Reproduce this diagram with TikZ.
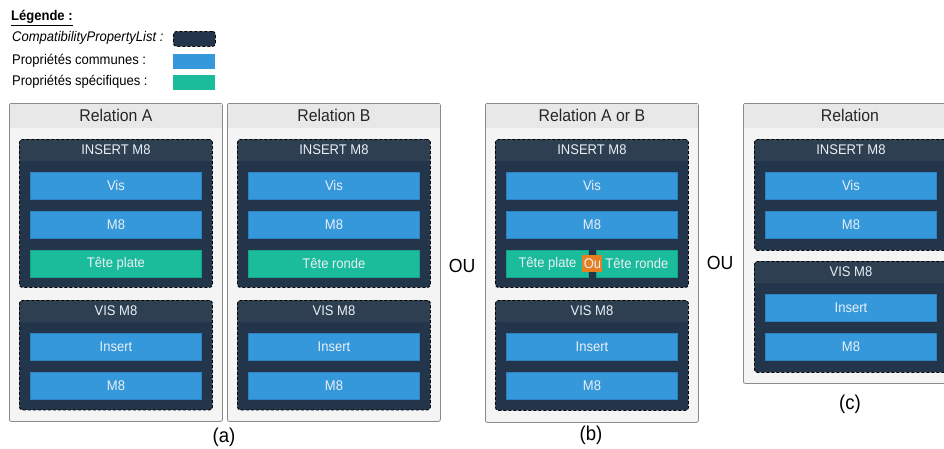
\documentclass[tikz,border=0pt]{standalone}
\usepackage{fontspec}
\setmainfont{Liberation Sans}[FakeStretch=0.93]
\usepackage{xcolor}
\usetikzlibrary{positioning,calc}

\definecolor{navy}{HTML}{22354B}
\definecolor{navyhead}{HTML}{2E3F52}
\definecolor{propblue}{HTML}{3498DB}
\definecolor{propblueline}{HTML}{2C82C0}
\definecolor{propgreen}{HTML}{1ABC9C}
\definecolor{propgreenline}{HTML}{17A589}
\definecolor{ouorange}{HTML}{E67E22}
\definecolor{panelbg}{HTML}{F4F4F4}
\definecolor{titlebg}{HTML}{E8E8E8}
\definecolor{panelline}{HTML}{8A8A8A}
\definecolor{lighttext}{HTML}{EAF0F5}

\begin{document}
\begin{tikzpicture}[x=1pt,y=-1pt,
  panel/.style={draw=panelline,fill=panelbg,rounded corners=2pt,line width=0.8pt,anchor=north west,inner sep=0pt,minimum width=213pt},
  ptitle/.style={fill=titlebg,inner sep=0pt,minimum width=211.8pt,minimum height=24.2pt,text=black!85,font=\fontsize{17}{19}\selectfont},
  group/.style={draw=black,dash pattern=on 3pt off 2pt,line width=0.9pt,fill=navy,rounded corners=3pt,anchor=north west,inner sep=0pt,minimum width=193pt,
    path picture={\fill[navyhead] (path picture bounding box.north west) rectangle ([yshift=-22pt]path picture bounding box.north east);}},
  ghead/.style={inner sep=0pt,text=lighttext,font=\fontsize{14}{16}\selectfont},
  item/.style={fill=propblue,draw=propblueline,line width=0.6pt,inner sep=0pt,minimum width=171pt,minimum height=27pt,text=lighttext,font=\fontsize{14}{16}\selectfont},
  spec/.style={item,fill=propgreen,draw=propgreenline},
  legtext/.style={anchor=west,inner sep=0pt,font=\fontsize{14}{16}\selectfont},
  swatch/.style={anchor=north west,inner sep=0pt,minimum width=42pt,minimum height=15pt},
  sublabel/.style={inner sep=0pt,font=\fontsize{20}{22}\selectfont},
  oulabel/.style={inner sep=0pt,font=\fontsize{19}{21}\selectfont},
  node distance=11.5pt]
\clip (0,0) rectangle (944,448);

% legend
\node[legtext,font=\fontsize{14}{16}\selectfont\bfseries] (legtitle) at (11,18) {\underline{Légende :}};
\node[legtext,font=\fontsize{14}{16}\selectfont\itshape] (legcpl) at (12,38) {CompatibilityPropertyList :};
\node[legtext] (legcom) at (12,61) {Propriétés communes :};
\node[legtext] (legspe) at (12,82) {Propriétés spécifiques :};
\node[swatch,fill=navy,draw=black,dash pattern=on 3pt off 2pt,line width=0.9pt,rounded corners=3pt] (swcpl) at (173,31) {};
\node[swatch,fill=propblue] (swcom) at (173,54) {};
\node[swatch,fill=propgreen] (swspe) at (173,75) {};

% (a) relation A
\node[panel,minimum height=318pt] (relA) at (9,103) {};
\node[ptitle] (relAt) at ([yshift=-12.6pt]relA.north) {Relation A};
\node[group,minimum height=148pt] (aIns) at (19,139) {};
\node[ghead] (aInsH) at ([yshift=-11pt]aIns.north) {INSERT M8};
\node[item,anchor=north] (aVis) at ([yshift=-32.5pt]aIns.north) {Vis};
\node[item,below=of aVis] (aM8) {M8};
\node[spec,below=of aM8] (aTete) {Tête plate};
\node[group,minimum height=109.5pt] (aVisG) at (19,300) {};
\node[ghead] (aVisGH) at ([yshift=-11pt]aVisG.north) {VIS M8};
\node[item,anchor=north] (aIns2) at ([yshift=-32.5pt]aVisG.north) {Insert};
\node[item,below=of aIns2] (aM82) {M8};

% (a) relation B
\node[panel,minimum height=318pt] (relB) at (227,103) {};
\node[ptitle] (relBt) at ([yshift=-12.6pt]relB.north) {Relation B};
\node[group,minimum height=148pt] (bIns) at (237,139) {};
\node[ghead] (bInsH) at ([yshift=-11pt]bIns.north) {INSERT M8};
\node[item,anchor=north] (bVis) at ([yshift=-32.5pt]bIns.north) {Vis};
\node[item,below=of bVis] (bM8) {M8};
\node[spec,below=of bM8] (bTete) {Tête ronde};
\node[group,minimum height=109.5pt] (bVisG) at (237,300) {};
\node[ghead] (bVisGH) at ([yshift=-11pt]bVisG.north) {VIS M8};
\node[item,anchor=north] (bIns2) at ([yshift=-32.5pt]bVisG.north) {Insert};
\node[item,below=of bIns2] (bM82) {M8};
\node[sublabel] (labA) at (224,437) {(a)};

\node[oulabel] (ou1) at (462,266) {OU};

% (b) relation A or B
\node[panel,minimum height=319pt] (relAB) at (485,103) {};
\node[ptitle] (relABt) at ([yshift=-12.6pt]relAB.north) {Relation A or B};
\node[group,minimum height=148pt] (abIns) at (495,139) {};
\node[ghead] (abInsH) at ([yshift=-11pt]abIns.north) {INSERT M8};
\node[item,anchor=north] (abVis) at ([yshift=-32.5pt]abIns.north) {Vis};
\node[item,below=of abVis] (abM8) {M8};
\node[spec,minimum width=82pt,anchor=north west] (abPlate) at ([yshift=-11.5pt]abM8.south west) {Tête plate};
\node[spec,minimum width=81pt,anchor=north east] (abRonde) at ([yshift=-11.5pt]abM8.south east) {Tête ronde};
\node[fill=ouorange,inner sep=0pt,minimum width=20pt,minimum height=17pt,text=lighttext,font=\fontsize{14}{16}\selectfont] (abOu) at ($(abPlate.east)!0.5!(abRonde.west)$) {Ou};
\node[group,minimum height=110pt] (abVisG) at (495,300) {};
\node[ghead] (abVisGH) at ([yshift=-11pt]abVisG.north) {VIS M8};
\node[item,anchor=north] (abIns2) at ([yshift=-32.5pt]abVisG.north) {Insert};
\node[item,below=of abIns2] (abM82) {M8};
\node[sublabel] (labB) at (591,435) {(b)};

\node[oulabel] (ou2) at (720,263) {OU};

% (c) relation
\node[panel,minimum height=280pt] (rel) at (743,103) {};
\node[ptitle] (relt) at ([yshift=-12.6pt]rel.north) {Relation};
\node[group,minimum height=111pt] (cIns) at (754,139) {};
\node[ghead] (cInsH) at ([yshift=-11pt]cIns.north) {INSERT M8};
\node[item,anchor=north] (cVis) at ([yshift=-32.5pt]cIns.north) {Vis};
\node[item,below=of cVis] (cM8) {M8};
\node[group,minimum height=111pt] (cVisG) at (754,261) {};
\node[ghead] (cVisGH) at ([yshift=-11pt]cVisG.north) {VIS M8};
\node[item,anchor=north] (cIns2) at ([yshift=-33pt]cVisG.north) {Insert};
\node[item,below=of cIns2] (cM82) {M8};
\node[sublabel] (labC) at (850,404) {(c)};
\end{tikzpicture}
\end{document}
